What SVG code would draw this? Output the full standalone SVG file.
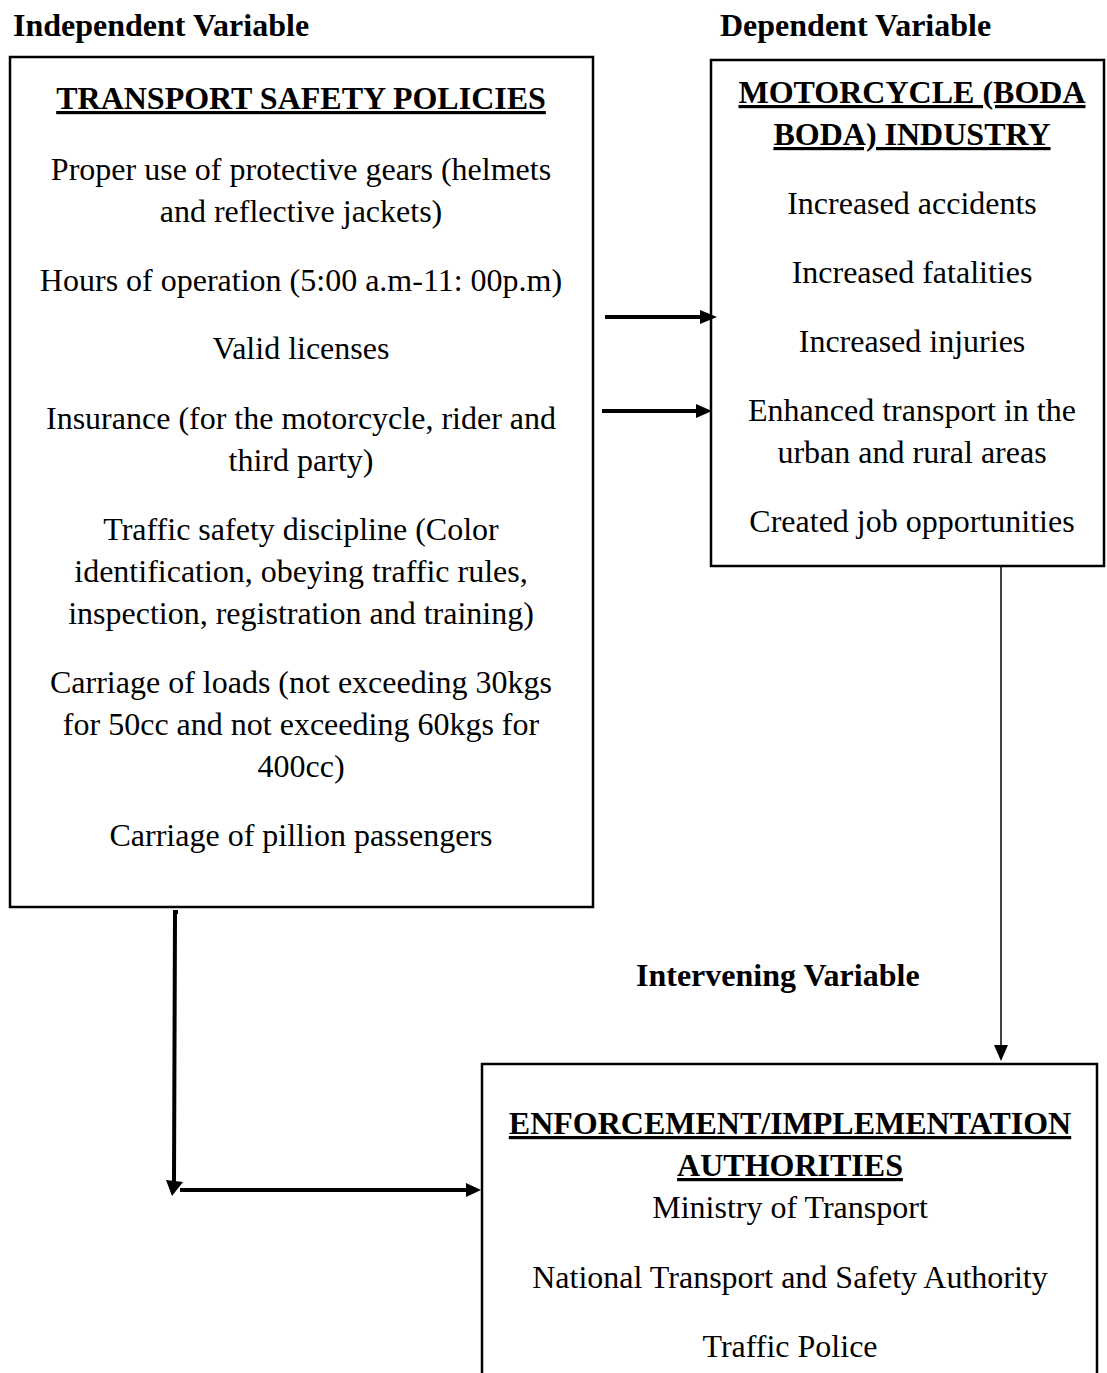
<svg xmlns="http://www.w3.org/2000/svg" width="1107" height="1373" viewBox="0 0 1107 1373">
<style>
text{font-family:"Liberation Serif","Times New Roman",serif;font-size:32px;fill:#000}
.b{font-weight:bold}
.c{text-anchor:middle}
.u{text-decoration:underline;text-decoration-thickness:3px;text-underline-offset:5px}
.box{fill:#fff;stroke:#000;stroke-width:2.5}
.thick{stroke:#000;stroke-width:4;fill:none}
.thin{stroke:#000;stroke-width:1.5;fill:none}
</style>
<rect width="1107" height="1373" fill="#fff"/>
<g id="labels">
<text class="b" x="13" y="36">Independent Variable</text>
<text class="b" x="720" y="36">Dependent Variable</text>
<text class="b" x="636" y="986">Intervening Variable</text>
</g>
<g id="node-policies">
<rect class="box" x="10" y="57" width="583" height="850"/>
<text class="b c u" x="301" y="109">TRANSPORT SAFETY POLICIES</text>
<text class="c" x="301" y="180">Proper use of protective gears (helmets</text>
<text class="c" x="301" y="222">and reflective jackets)</text>
<text class="c" x="301" y="291">Hours of operation (5:00 a.m-11: 00p.m)</text>
<text class="c" x="301" y="359">Valid licenses</text>
<text class="c" x="301" y="429">Insurance (for the motorcycle, rider and</text>
<text class="c" x="301" y="471">third party)</text>
<text class="c" x="301" y="540">Traffic safety discipline (Color</text>
<text class="c" x="301" y="582">identification, obeying traffic rules,</text>
<text class="c" x="301" y="624">inspection, registration and training)</text>
<text class="c" x="301" y="693">Carriage of loads (not exceeding 30kgs</text>
<text class="c" x="301" y="735">for 50cc and not exceeding 60kgs for</text>
<text class="c" x="301" y="777">400cc)</text>
<text class="c" x="301" y="846">Carriage of pillion passengers</text>
</g>
<g id="node-industry">
<rect class="box" x="711" y="60" width="393" height="506"/>
<text class="b c u" x="912" y="103">MOTORCYCLE (BODA</text>
<text class="b c u" x="912" y="145">BODA) INDUSTRY</text>
<text class="c" x="912" y="214">Increased accidents</text>
<text class="c" x="912" y="283">Increased fatalities</text>
<text class="c" x="912" y="352">Increased injuries</text>
<text class="c" x="912" y="421">Enhanced transport in the</text>
<text class="c" x="912" y="463">urban and rural areas</text>
<text class="c" x="912" y="532">Created job opportunities</text>
</g>
<g id="node-authorities">
<rect class="box" x="482" y="1064" width="615" height="330"/>
<text class="b c u" x="790" y="1134">ENFORCEMENT/IMPLEMENTATION</text>
<text class="b c u" x="790" y="1176">AUTHORITIES</text>
<text class="c" x="790" y="1218">Ministry of Transport</text>
<text class="c" x="790" y="1288">National Transport and Safety Authority</text>
<text class="c" x="790" y="1357">Traffic Police</text>
</g>
<g id="connectors">
<line class="thick" x1="605" y1="317" x2="702" y2="317"/>
<polygon points="700,310 717,317 700,324"/>
<line class="thick" x1="602" y1="411" x2="697" y2="411"/>
<polygon points="696,404 712,411 696,418"/>
<polyline class="thick" points="178,912 175,912 174,1182"/>
<polygon points="166,1180 183,1182 172,1196"/>
<line class="thick" x1="180" y1="1190" x2="468" y2="1190"/>
<polygon points="466,1183 481,1190 466,1197"/>
<line class="thin" x1="1001" y1="567" x2="1001" y2="1047"/>
<polygon points="994,1045 1008,1045 1001,1061"/>
</g>
</svg>
